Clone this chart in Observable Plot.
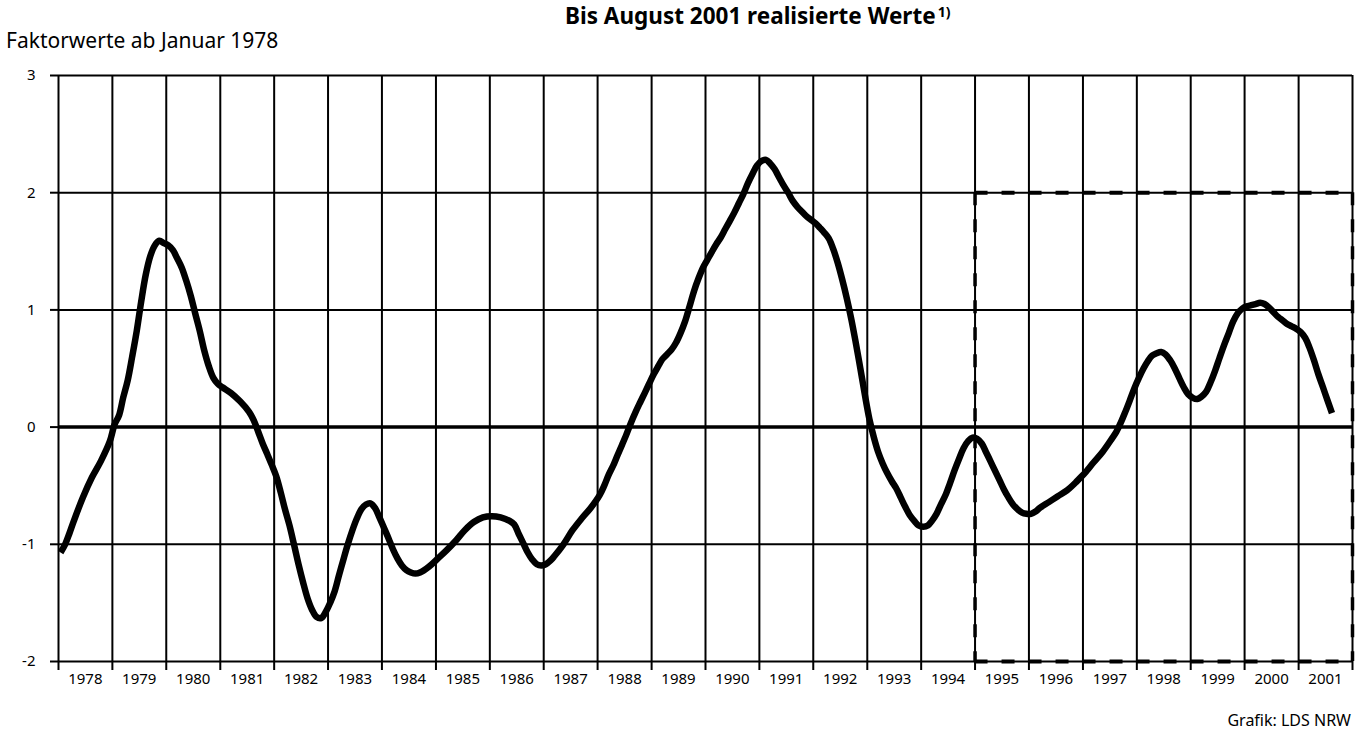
<!DOCTYPE html>
<html>
<head>
<meta charset="utf-8">
<script src="https://cdn.jsdelivr.net/npm/d3@7"></script>
<script src="https://cdn.jsdelivr.net/npm/@observablehq/plot@0.6"></script>
<style>
  html, body { margin: 0; padding: 0; background: #fff; }
  #wrap { position: relative; width: 1364px; height: 731px; overflow: hidden; font-family: "Noto Sans", sans-serif; color: #000; }
  .t { position: absolute; white-space: nowrap; }
  #title { left: 565px; top: 5px; font-size: 22.5px; line-height: 22px; font-weight: bold; }
  #title sup { font-size: 14px; vertical-align: 0; position: relative; top: -7px; margin-left: 2px; }
  #subtitle { left: 6px; top: 30px; font-size: 21px; line-height: 21px; }
  #caption { right: 13px; top: 712px; font-size: 16px; line-height: 16px; }
  #chart { position: absolute; left: 0; top: 56px; }
</style>
</head>
<body>
<div id="wrap">
  <div class="t" id="title">Bis August 2001 realisierte Werte<sup>1)</sup></div>
  <div class="t" id="subtitle">Faktorwerte ab Januar 1978</div>
  <div id="chart"></div>
  <div class="t" id="caption">Grafik: LDS NRW</div>
</div>
<script>
// Factor values (month → value), Jan 1978 – Aug 2001
const months = [
  "1978-01","1978-02","1978-03","1978-04","1978-06","1978-08","1978-10","1978-12",
  "1979-01","1979-02","1979-03","1979-04","1979-05","1979-06","1979-07","1979-08","1979-09","1979-10","1979-11","1979-12",
  "1980-01","1980-02","1980-03","1980-04","1980-05","1980-06","1980-07","1980-08","1980-09","1980-10","1980-11","1980-12",
  "1981-01","1981-03","1981-05","1981-07","1981-08","1981-09","1981-10","1981-11","1981-12",
  "1982-01","1982-02","1982-03","1982-04","1982-05","1982-06","1982-07","1982-08","1982-09","1982-10","1982-11","1982-12",
  "1983-01","1983-02","1983-03","1983-04","1983-05","1983-06","1983-07","1983-08","1983-09","1983-10","1983-11","1983-12",
  "1984-01","1984-02","1984-03","1984-04","1984-05","1984-06","1984-07","1984-08","1984-09","1984-11",
  "1985-01","1985-03","1985-05","1985-07","1985-09","1985-11",
  "1986-01","1986-03","1986-05","1986-06","1986-07","1986-08","1986-09","1986-10","1986-11","1986-12",
  "1987-01","1987-02","1987-03","1987-05","1987-07","1987-09","1987-11",
  "1988-01","1988-02","1988-03","1988-04","1988-05","1988-06","1988-07","1988-08","1988-09","1988-10","1988-11","1988-12",
  "1989-01","1989-02","1989-03","1989-04","1989-05","1989-06","1989-07","1989-08","1989-09","1989-10","1989-11","1989-12",
  "1990-01","1990-02","1990-03","1990-04","1990-05","1990-06","1990-07","1990-08","1990-09","1990-10","1990-11","1990-12",
  "1991-01","1991-02","1991-03","1991-04","1991-05","1991-06","1991-07","1991-08","1991-09","1991-10","1991-11","1991-12",
  "1992-01","1992-02","1992-03","1992-04","1992-05","1992-06","1992-07","1992-08","1992-09","1992-10","1992-11","1992-12",
  "1993-01","1993-02","1993-03","1993-04","1993-05","1993-06","1993-07","1993-08","1993-09","1993-10","1993-11","1993-12",
  "1994-01","1994-02","1994-03","1994-04","1994-05","1994-06","1994-07","1994-08","1994-09","1994-10","1994-11","1994-12",
  "1995-01","1995-02","1995-03","1995-04","1995-05","1995-06","1995-07","1995-08","1995-09","1995-10","1995-11","1995-12",
  "1996-01","1996-02","1996-03","1996-05","1996-07","1996-09","1996-11","1996-12",
  "1997-01","1997-03","1997-05","1997-07","1997-08","1997-09","1997-10","1997-11","1997-12",
  "1998-01","1998-02","1998-03","1998-04","1998-05","1998-06","1998-07","1998-08","1998-09","1998-10","1998-11","1998-12",
  "1999-01","1999-02","1999-03","1999-04","1999-05","1999-06","1999-07","1999-08","1999-09","1999-10","1999-11","1999-12",
  "2000-01","2000-02","2000-03","2000-04","2000-05","2000-06","2000-07","2000-08","2000-09","2000-10","2000-11","2000-12",
  "2001-01","2001-02","2001-03","2001-04","2001-05","2001-06","2001-07","2001-08"
];
const values = [
  -1.07,-1.00,-0.91,-0.80,-0.60,-0.43,-0.29,-0.12,
  0.02,0.10,0.25,0.40,0.60,0.82,1.07,1.30,1.46,1.55,1.59,1.57,
  1.55,1.51,1.44,1.36,1.25,1.12,0.97,0.82,0.65,0.52,0.42,0.37,
  0.34,0.29,0.22,0.13,0.06,-0.04,-0.14,-0.23,-0.32,
  -0.42,-0.56,-0.70,-0.84,-1.00,-1.17,-1.32,-1.46,-1.56,-1.62,-1.63,-1.58,
  -1.50,-1.40,-1.27,-1.13,-1.00,-0.88,-0.78,-0.70,-0.66,-0.65,-0.69,-0.77,
  -0.86,-0.95,-1.04,-1.12,-1.18,-1.22,-1.24,-1.25,-1.24,-1.19,
  -1.12,-1.05,-0.97,-0.88,-0.81,-0.77,
  -0.76,-0.77,-0.80,-0.83,-0.91,-0.99,-1.07,-1.13,-1.17,-1.18,
  -1.17,-1.14,-1.10,-1.00,-0.88,-0.78,-0.69,
  -0.58,-0.50,-0.41,-0.33,-0.24,-0.15,-0.06,0.04,0.13,0.21,0.29,0.37,
  0.45,0.52,0.58,0.62,0.66,0.72,0.80,0.90,1.03,1.16,1.27,1.36,
  1.43,1.50,1.56,1.62,1.69,1.76,1.83,1.91,1.99,2.08,2.16,2.23,
  2.27,2.28,2.25,2.20,2.13,2.06,2.00,1.93,1.88,1.84,1.80,1.77,
  1.74,1.70,1.66,1.61,1.52,1.40,1.26,1.10,0.92,0.72,0.50,0.28,
  0.07,-0.09,-0.21,-0.31,-0.39,-0.46,-0.52,-0.60,-0.68,-0.75,-0.80,-0.84,
  -0.85,-0.84,-0.80,-0.74,-0.66,-0.58,-0.48,-0.37,-0.27,-0.18,-0.12,-0.09,
  -0.10,-0.14,-0.21,-0.29,-0.37,-0.45,-0.53,-0.60,-0.66,-0.70,-0.73,-0.74,
  -0.74,-0.72,-0.69,-0.64,-0.59,-0.54,-0.47,-0.43,
  -0.39,-0.30,-0.21,-0.10,-0.04,0.04,0.13,0.23,0.33,
  0.42,0.50,0.56,0.61,0.63,0.64,0.62,0.57,0.50,0.42,0.34,0.28,
  0.25,0.24,0.26,0.30,0.38,0.48,0.59,0.70,0.80,0.90,0.97,1.01,
  1.03,1.04,1.05,1.06,1.05,1.02,0.98,0.94,0.91,0.88,0.86,0.84,
  0.81,0.76,0.68,0.57,0.45,0.34,0.23,0.12
];
const yearLabels = d3.range(1978, 2002);           // 1978 … 2001
const yTicks = [-2, -1, 0, 1, 2, 3];
const boxYears = [1995, 2002];                      // dashed box span (years)
const boxValues = [-2, 2];                          // dashed box span (values)

const utc = (y, m = 0, d = 1) => new Date(Date.UTC(y, m, d));
const data = months.map((m, i) => ({
  date: utc(+m.slice(0, 4), +m.slice(5) - 1, 15),
  value: values[i]
}));
const yearStarts = d3.range(1978, 2003).map(y => utc(y));
const yearMids = yearLabels.map(y => utc(y, 6, 2));
const gridY = yTicks.filter(v => v !== 0);
const bx0 = utc(boxYears[0]), bx1 = utc(boxYears[1]);

const chart = Plot.plot({
  width: 1364,
  height: 645,
  marginLeft: 58,
  marginRight: 12,
  marginTop: 19,
  marginBottom: 40,
  style: { fontFamily: "Noto Sans, sans-serif", fontSize: "15px", color: "#000", background: "#fff" },
  x: { type: "utc", domain: [utc(1978), utc(2002)], label: null },
  y: { domain: [-2, 3], label: null },
  marks: [
    Plot.ruleX(yearStarts, { stroke: "#000", strokeWidth: 2 }),
    Plot.ruleY(gridY, { stroke: "#000", strokeWidth: 2 }),
    Plot.ruleY([0], { stroke: "#000", strokeWidth: 3.5 }),
    Plot.axisX(yearStarts, { tickSize: 9, tickFormat: () => "", strokeWidth: 2 }),
    Plot.axisX(yearMids, { tickSize: 0, tickPadding: 12, tickFormat: d => String(d.getUTCFullYear()), fontSize: 15 }),
    Plot.axisY(yTicks, { tickSize: 8, tickPadding: 15, strokeWidth: 2, fontSize: 15, tickFormat: d => String(d) }),
    Plot.line(data, { x: "date", y: "value", curve: "catmull-rom", stroke: "#000", strokeWidth: 6.5, strokeLinejoin: "round", strokeLinecap: "butt" }),
    Plot.ruleY(boxValues, { x1: bx0, x2: bx1, stroke: "#000", strokeWidth: 4, strokeDasharray: "13,14" }),
    Plot.ruleX([bx0, bx1], { y1: boxValues[1], y2: boxValues[0], stroke: "#000", strokeWidth: 3.5, strokeDasharray: "13,14" })
  ]
});
document.getElementById("chart").appendChild(chart);
</script>
</body>
</html>
